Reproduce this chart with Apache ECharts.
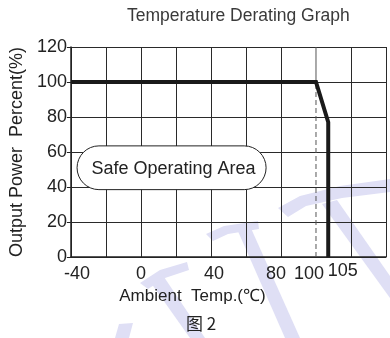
<!DOCTYPE html>
<html>
<head>
<meta charset="utf-8">
<script src="https://cdn.jsdelivr.net/npm/echarts@6/dist/echarts.min.js"></script>
<style>
html,body{margin:0;padding:0;background:#fff;}
#chart{width:390px;height:338px;}
</style>
</head>
<body>
<div id="chart"></div>
<script>
// ---- data ----
const titleText = 'Temperature Derating Graph';
const captionText = '图 2';
const xAxisName = 'Ambient  Temp.(℃)';
const yAxisName = 'Output Power  Percent(%)';
const xTickLabels = [-40, 0, 40, 80, 100, 105];
const yTickLabels = [0, 20, 40, 60, 80, 100, 120];
const deratingTemp = [-40, 100, 107, 107];
const deratingPower = [100, 100, 77, 0];
const refLineTemp = [100, 100];
const refLinePower = [0, 100];
const safeAreaLabel = 'Safe Operating Area';
const safeAreaBox = [-36.5, 38.5, 71.5, 63.5]; // xMin, yMin, xMax, yMax (data units)

const font = "'Liberation Sans', Arial, sans-serif";
const chart = echarts.init(document.getElementById('chart'));

// split line colours: hide the one at 100 °C (drawn dashed separately)
const xSplitColors = [];
for (let v = -40; v <= 140; v += 20) xSplitColors.push(v === 100 ? 'rgba(0,0,0,0)' : '#2a2a2a');

const labelShift = {
  '-40': [3, 0, 0, 12], '0': [3, 0, 0, 0], '40': [3, 0, 0, 6],
  '80': [3, 10, 0, 0], '100': [3, 14, 0, 0], '105': [0, 0, 0, 36]
};
const rich = {};
xTickLabels.forEach((v, i) => {
  rich['t' + i] = { fontSize: 18, fontFamily: font, color: '#222', padding: labelShift[String(v)] };
});

// faint background watermark (decorative)
const wm = '#dfdff5';
const watermark = [
  [[278,208],[300,196],[340,186],[390,179],[390,192],[342,198],[306,206],[288,217]],
  [[322,204],[337,200],[390,276],[390,298]],
  [[206,234],[224,226],[258,221],[259,229],[228,234],[213,241]],
  [[237,229],[250,226],[300,338],[285,338]],
  [[140,283],[160,270],[187,262],[189,270],[165,278],[148,289]],
  [[151,283],[164,277],[205,338],[190,338]],
  [[115,338],[119,324],[133,323],[129,338]]
].map(pts => ({ type: 'polygon', z: -10, silent: true, shape: { points: pts }, style: { fill: wm } }));

chart.setOption({
  animation: false,
  backgroundColor: '#fff',
  graphic: watermark,
  title: [
    { text: titleText, left: 127, top: 7, padding: 0,
      textStyle: { fontSize: 17.5, fontWeight: 'normal', color: '#3a3a3a', fontFamily: font } },
    { text: captionText, left: 186, top: 315, padding: 0,
      textStyle: { fontSize: 17, fontWeight: 'normal', color: '#222', fontFamily: "'Noto Sans CJK SC', " + font } }
  ],
  grid: { left: 70, right: 4, top: 47, bottom: 81, containLabel: false },
  xAxis: {
    type: 'value', min: -40, max: 140, interval: 20,
    name: xAxisName, nameLocation: 'middle', nameGap: 26,
    nameTextStyle: { fontSize: 17, color: '#222', fontFamily: font, padding: [0, 72, 0, 0] },
    axisLine: { show: true, onZero: false, lineStyle: { color: '#222', width: 1.5 } },
    axisTick: { show: false },
    axisLabel: {
      customValues: xTickLabels, margin: 5, hideOverlap: false,
      formatter: (v) => { const i = xTickLabels.indexOf(v); return '{t' + i + '|' + v + '}'; },
      rich: rich
    },
    splitLine: { show: true, lineStyle: { color: xSplitColors, width: 1 } }
  },
  yAxis: {
    type: 'value', min: 0, max: 120, interval: 20,
    name: yAxisName, nameLocation: 'middle', nameGap: 44,
    nameTextStyle: { fontSize: 18, color: '#222', fontFamily: font },
    axisLine: { show: true, onZero: false, lineStyle: { color: '#222', width: 1.5 } },
    axisTick: { show: true, length: 4, inside: false, lineStyle: { color: '#222' } },
    axisLabel: { fontSize: 18, color: '#222', fontFamily: font, margin: 4,
      formatter: (v) => yTickLabels.includes(v) ? String(v) : '' },
    splitLine: { show: true, lineStyle: { color: '#2a2a2a', width: 1 } }
  },
  series: [
    {
      type: 'line', symbol: 'none', silent: true, z: 2,
      data: [[refLineTemp[1], refLinePower[1]], [refLineTemp[1], 120]],
      lineStyle: { color: '#555', width: 1, type: 'solid' }
    },
    {
      type: 'line', symbol: 'none', silent: true, z: 2,
      data: refLineTemp.map((t, i) => [t, refLinePower[i]]),
      lineStyle: { color: '#555', width: 1, type: [5, 3] }
    },
    {
      type: 'custom', silent: true, z: 3,
      data: [safeAreaBox],
      renderItem: (params, api) => {
        const p1 = api.coord([api.value(0), api.value(3)]);
        const p2 = api.coord([api.value(2), api.value(1)]);
        const w = p2[0] - p1[0], h = p2[1] - p1[1];
        return {
          type: 'group',
          children: [
            { type: 'rect', shape: { x: p1[0], y: p1[1], width: w, height: h, r: h / 2 },
              style: { fill: '#fff', stroke: '#222', lineWidth: 1 } },
            { type: 'text', x: p1[0] + w / 2 + 2, y: p1[1] + h / 2 + 1,
              style: { text: safeAreaLabel, fontSize: 18, fontFamily: font, fill: '#222',
                align: 'center', verticalAlign: 'middle' } }
          ]
        };
      }
    },
    {
      type: 'line', symbol: 'none', silent: true, z: 4,
      data: deratingTemp.map((t, i) => [t, deratingPower[i]]),
      lineStyle: { color: '#1a1a1a', width: 4, join: 'miter', cap: 'butt' }
    }
  ]
});
</script>
</body>
</html>
